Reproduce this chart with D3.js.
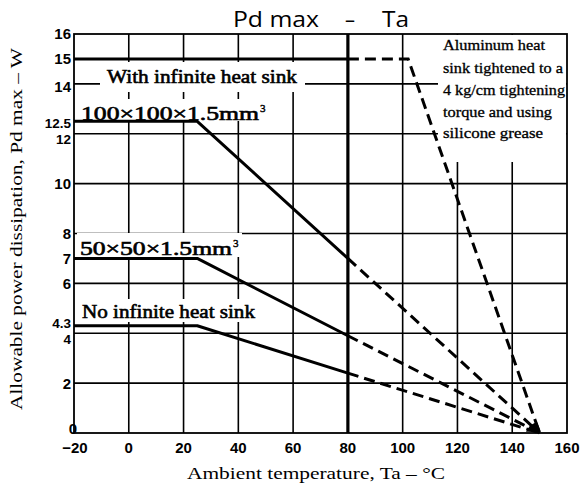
<!DOCTYPE html>
<html>
<head>
<meta charset="utf-8">
<script src="https://cdn.jsdelivr.net/npm/d3@7"></script>
<style>
  html, body { margin: 0; padding: 0; background: #fff; }
  svg { display: block; }
</style>
</head>
<body>
<script>
// ---------- data ----------
const xTicks = [-20, 0, 20, 40, 60, 80, 100, 120, 140, 160];
const xGrid = [0, 20, 40, 60, 100, 120, 140];
const yTicks = [0, 2, 4, 4.3, 6, 7, 8, 10, 12, 12.5, 14, 15, 16];
const yGrid = [2, 4, 6, 8, 10, 12, 14];

const seriesNames = ["With infinite heat sink", "100×100×1.5mm", "50×50×1.5mm", "No infinite heat sink"];
// solid portions (Ta, Pd)
const infiniteSolid = [[-20, 15], [80, 15]];
const infiniteDashed = [[80, 15], [102, 15], [150, 0]];
const hs100Solid = [[-20, 12.5], [25, 12.5], [80, 7]];
const hs100Dashed = [[80, 7], [150, 0]];
const hs50Solid = [[-20, 7], [25, 7], [80, 3.9]];
const hs50Dashed = [[80, 3.9], [150, 0]];
const noSinkSolid = [[-20, 4.3], [25, 4.3], [80, 2.4]];
const noSinkDashed = [[80, 2.4], [150, 0]];

const noteLines = ["Aluminum heat", "sink tightened to a", "4 kg/cm tightening", "torque and using", "silicone grease"];

// ---------- layout ----------
const W = 587, H = 488;
const svg = d3.select("body").append("svg").attr("width", W).attr("height", H);

const x = d3.scaleLinear().domain([-20, 160]).range([74, 567]);
const y = d3.scaleLinear().domain([0, 16]).range([433, 34]);

const g = svg.append("g");

// grid
g.selectAll("line.vg").data(xGrid).join("line")
  .attr("x1", d => x(d)).attr("x2", d => x(d))
  .attr("y1", y(0)).attr("y2", y(16))
  .attr("stroke", "#000").attr("stroke-width", 1.6);
g.selectAll("line.hg").data(yGrid).join("line")
  .attr("x1", x(-20)).attr("x2", x(160))
  .attr("y1", d => y(d)).attr("y2", d => y(d))
  .attr("stroke", "#000").attr("stroke-width", 1.6);

// frame
g.append("rect").attr("x", x(-20)).attr("y", y(16))
  .attr("width", x(160) - x(-20)).attr("height", y(0) - y(16))
  .attr("fill", "none").attr("stroke", "#000").attr("stroke-width", 1.8);

// thick 80°C line
g.append("line").attr("x1", x(80)).attr("x2", x(80)).attr("y1", y(0)).attr("y2", y(16))
  .attr("stroke", "#000").attr("stroke-width", 3.2);

// white label backgrounds (occlude grid like the original)
const bg = [
  [100, 62, 205, 30],
  [77, 99, 193, 22],
  [77, 233, 165, 24],
  [77, 299, 182, 23],
  [438, 35, 128, 127]
];
g.selectAll("rect.bg").data(bg).join("rect")
  .attr("x", d => d[0]).attr("y", d => d[1]).attr("width", d => d[2]).attr("height", d => d[3])
  .attr("fill", "#fff");

// curves
const line = d3.line().x(d => x(d[0])).y(d => y(d[1]));
[infiniteSolid, hs100Solid, hs50Solid, noSinkSolid].forEach(s => {
  g.append("path").attr("d", line(s)).attr("fill", "none")
    .attr("stroke", "#000").attr("stroke-width", 3).attr("stroke-linejoin", "round");
});
[infiniteDashed, hs100Dashed, hs50Dashed, noSinkDashed].forEach(s => {
  g.append("path").attr("d", line(s)).attr("fill", "none")
    .attr("stroke", "#000").attr("stroke-width", 3).attr("stroke-dasharray", "11,6");
});
// convergence blob
g.append("path")
  .attr("d", line([[145, 0.05], [150.5, 0.05], [149, 0.45], [146.5, 0.3]]) + "Z")
  .attr("fill", "#000");

// y tick labels
const tickFont = "'Liberation Sans', Arial, sans-serif";
const yAdj = { 4.3: -3, 4: 6, 12.5: 1.5, 12: 5.5, 14: 3, 0: -4 };
g.selectAll("text.yt").data(yTicks).join("text")
  .attr("x", d => d === 0 ? 77 : 71)
  .attr("y", d => y(d) + (yAdj[d] || 0))
  .attr("dy", "0.36em")
  .attr("text-anchor", "end")
  .attr("font-family", tickFont).attr("font-weight", "bold")
  .attr("font-size", d => (d === 4.3 || d === 4 || d === 12 || d === 12.5) ? 13.5 : 15)
  .text(d => d);

// x tick labels
g.selectAll("text.xt").data(xTicks).join("text")
  .attr("x", d => x(d) + (d === -20 ? 1 : 0))
  .attr("y", 453)
  .attr("text-anchor", "middle")
  .attr("font-family", tickFont).attr("font-weight", "bold").attr("font-size", 15)
  .text(d => d < 0 ? "−" + Math.abs(d) : d);

// series labels
const serif = "'Liberation Serif', 'Times New Roman', serif";
function lab(txt, sup, x0, yb, len, fs) {
  const t = g.append("text").attr("x", x0).attr("y", yb)
    .attr("font-family", serif).attr("font-size", fs)
    .attr("stroke", "#000").attr("stroke-width", 0.6)
    .attr("textLength", len).attr("lengthAdjust", "spacingAndGlyphs");
  t.text(txt);
  if (sup) {
    g.append("text").attr("x", x0 + len + 1).attr("y", yb - 8)
      .attr("font-family", serif).attr("font-size", fs * 0.6)
      .attr("stroke", "#000").attr("stroke-width", 0.4).text(sup);
  }
}
lab(seriesNames[0], null, 107, 83, 190, 18.5);
lab(seriesNames[1], "3", 81, 120, 178, 18.5);
lab(seriesNames[2], "3", 80, 255, 152, 18.5);
lab(seriesNames[3], null, 82, 318, 173, 18.5);

// note text
g.selectAll("text.note").data(noteLines).join("text")
  .attr("x", 443)
  .attr("y", (d, i) => [50, 73, 95, 117, 138][i])
  .attr("font-family", serif).attr("font-size", 14)
  .attr("stroke", "#000").attr("stroke-width", 0.3)
  .attr("textLength", (d, i) => [102, 120, 122, 109, 100][i])
  .attr("lengthAdjust", "spacingAndGlyphs")
  .text(d => d);

// axis titles
svg.append("text").attr("x", 316).attr("y", 479).attr("text-anchor", "middle")
  .attr("font-family", serif).attr("font-size", 17)
  .attr("textLength", 258).attr("lengthAdjust", "spacingAndGlyphs")
  .text("Ambient temperature, Ta – °C");
svg.append("text").attr("transform", "translate(22,229) rotate(-90)")
  .attr("text-anchor", "middle")
  .attr("font-family", serif).attr("font-size", 17)
  .attr("textLength", 362).attr("lengthAdjust", "spacingAndGlyphs")
  .text("Allowable power dissipation, Pd max – W");

// title
const tf = "'Open Sans', 'Noto Sans', sans-serif";
[["Pd max", 233, 86], ["–", 345, 10], ["Ta", 382, 27]].forEach(p => {
  svg.append("text").attr("x", p[1]).attr("y", 27)
    .attr("font-family", tf).attr("font-size", 21)
    .attr("textLength", p[2]).attr("lengthAdjust", "spacingAndGlyphs")
    .text(p[0]);
});
</script>
</body>
</html>
